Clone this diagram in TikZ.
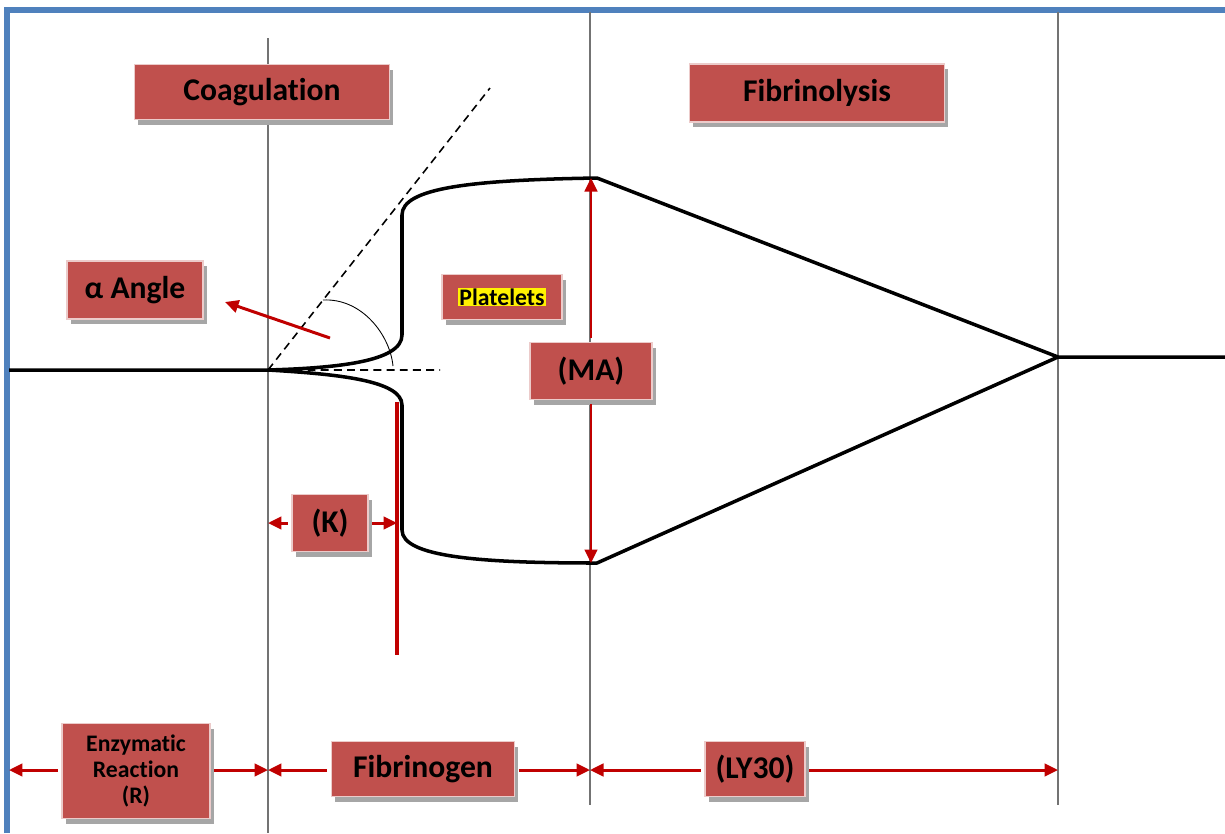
\documentclass[tikz,border=0pt]{standalone}
\usepackage{fontspec}
\setmainfont{Carlito}[Ligatures=NoCommon]
\usetikzlibrary{arrows.meta,shadows}
\definecolor{boxred}{HTML}{C0504D}
\definecolor{arrred}{HTML}{C00000}
\definecolor{frameblue}{HTML}{4F81BD}
\tikzset{
  lbl/.style={fill=boxred, draw=boxred!30, line width=1pt, inner sep=0pt, align=center,
    font=\bfseries\fontsize{18}{21}\selectfont,
    drop shadow={shadow xshift=2pt, shadow yshift=-3pt, fill=black!35, opacity=1}},
  guide/.style={black!55, line width=0.9pt},
  curve/.style={line width=2pt, line join=round},
  redarr/.style={arrred, line width=1.7pt, shorten <=2pt, -{Triangle[length=2.7mm,width=2.5mm]}}
}

\begin{document}
\begin{tikzpicture}[x=0.02cm,y=-0.02cm]
  \useasboundingbox (0,0) rectangle (1225,833);
  \draw[frameblue, line width=3pt] (7,833) -- (7,10) -- (1225,10);
  \coordinate (c1) at (268,833);
  \coordinate (c2) at (590,805);
  \coordinate (c3) at (1058,805);
  \draw[guide] (268,38) -- (c1) (590,12) -- (c2) (1058,12) -- (c3);

  \coordinate (start) at (9,370);
  \coordinate (o) at (268,370);
  \coordinate (top) at (597,178);
  \coordinate (bot) at (597,563);
  \coordinate (apex) at (1058,357);
  \coordinate (tail) at (1225,357);
  \draw[curve] (start) -- (o) .. controls (335,368) and (402,362) .. (402,335) -- (402,215)
    .. controls (402,188) and (470,180) .. (top) -- (apex) -- (tail);
  \draw[curve] (o) .. controls (335,374) and (402,380) .. (402,405) -- (402,530)
    .. controls (402,557) and (480,563) .. (bot) -- (apex);

  \draw[dash pattern=on 4.5pt off 3pt, line width=0.9pt] (o) -- (490,88) (o) -- (440,370);
  \draw[line width=0.5pt] (323,300) .. controls (362,298) and (390,335) .. (393,366);

  \node[lbl, minimum width=5.1cm, minimum height=1.1cm] (coag) at (262,92) {Coagulation};
  \node[lbl, minimum width=5.1cm, minimum height=1.16cm] (fibl) at (817,93) {Fibrinolysis};
  \node[lbl, minimum width=2.72cm, minimum height=1.16cm] (alpha) at (135,290) {α Angle};
  \node[lbl, minimum width=2.4cm, minimum height=0.9cm, font=\bfseries\fontsize{13.5}{15}\selectfont] (plt) at (502,297)
    {\setlength{\fboxsep}{0.6pt}\colorbox{yellow}{Platelets}};
  \node[lbl, minimum width=2.44cm, minimum height=1.14cm] (ma) at (591,371) {(MA)};
  \node[lbl, minimum width=1.52cm, minimum height=1.14cm] (k) at (330,523) {(K)};
  \node[lbl, minimum width=2.96cm, minimum height=1.9cm, font=\bfseries\fontsize{13.5}{15}\selectfont] (r) at (136,771)
    {Enzymatic\\Reaction\\(R)};
  \node[lbl, minimum width=3.66cm, minimum height=1.1cm] (fib) at (423,769) {Fibrinogen};
  \node[lbl, minimum width=2cm, minimum height=1.1cm] (ly) at (755,769) {(LY30)};

  \coordinate (atip) at (225,302);
  \draw[redarr, shorten <=0pt] (330,338) -- (atip);
  \draw[redarr] (ma.north) -- (ma.north |- top);
  \draw[redarr] (ma.south) -- (ma.south |- bot);
  \coordinate (ktop) at (397,402);
  \coordinate (kbot) at (397,655);
  \draw[arrred, line width=2pt] (ktop) -- (kbot);
  \draw[redarr] (k.west) -- (k.west -| o);
  \draw[redarr] (k.east) -- (k.east -| ktop);
  \draw[redarr] (r.west |- 0,770) -- (start |- 0,770);
  \draw[redarr] (r.east |- 0,770) -- (o |- 0,770);
  \draw[redarr] (fib.west |- 0,770) -- (o |- 0,770);
  \draw[redarr] (fib.east |- 0,770) -- (c2 |- 0,770);
  \draw[redarr] (ly.west |- 0,770) -- (c2 |- 0,770);
  \draw[redarr] (ly.east |- 0,770) -- (c3 |- 0,770);
\end{tikzpicture}
\end{document}
